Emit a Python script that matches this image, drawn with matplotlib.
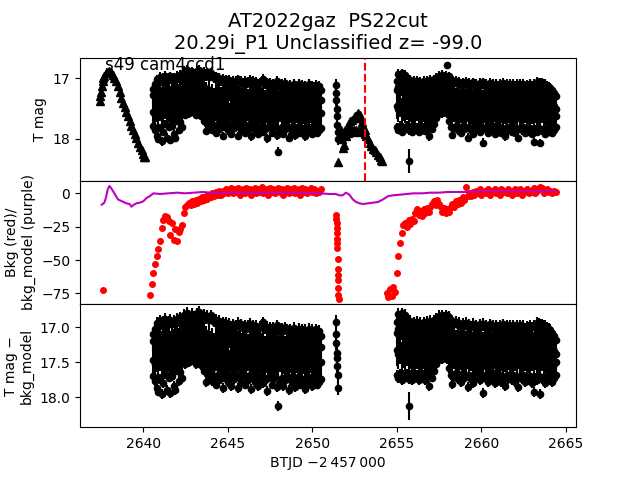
import numpy as np
import matplotlib
matplotlib.use('Agg')
from matplotlib import pyplot as plt

nan = np.nan

# ---- segment A: early rise/decline, plotted as triangles (top panel only)
t_a = [2637.45, 2637.47, 2637.50, 2637.55, 2637.60, 2637.65, 2637.70, 2637.80, 2637.90, 2638.00,
       2638.10, 2638.20, 2638.30, 2638.40, 2638.50, 2638.60, 2638.70, 2638.80, 2638.90, 2639.00,
       2639.10, 2639.20, 2639.30, 2639.40, 2639.50, 2639.60, 2639.70, 2639.80, 2639.90, 2640.00,
       2640.05, 2640.10]
mag_a = [17.38, 17.30, 17.22, 17.12, 17.05, 17.00, 16.96, 16.92, 16.89, 16.88,
         16.90, 16.94, 16.99, 17.05, 17.13, 17.23, 17.33, 17.41, 17.48, 17.55,
         17.63, 17.70, 17.78, 17.85, 17.92, 17.99, 18.06, 18.13, 18.19, 18.25,
         18.30, 18.30]

# ---- segment B: dense light curve, 4 exposures per 0.1 d bin
t_b = [2640.4, 2640.5, 2640.6, 2640.7, 2640.8, 2640.9, 2641.0, 2641.1, 2641.2, 2641.3,
       2641.4, 2641.5, 2641.6, 2641.7, 2641.8, 2641.9, 2642.0, 2642.1, 2642.2, 2642.3,
       2642.4, 2642.5, 2642.6, 2642.7, 2642.8, 2642.9, 2643.0, 2643.1, 2643.2, 2643.3,
       2643.4, 2643.5, 2643.6, 2643.7, 2643.8, 2643.9, 2644.0, 2644.1, 2644.2, 2644.3,
       2644.4, 2644.5, 2644.6, 2644.7, 2644.8, 2644.9, 2645.0, 2645.1, 2645.2, 2645.3,
       2645.4, 2645.5, 2645.6, 2645.7, 2645.8, 2645.9, 2646.0, 2646.1, 2646.2, 2646.3,
       2646.4, 2646.5, 2646.6, 2646.7, 2646.8, 2646.9, 2647.0, 2647.1, 2647.2, 2647.3,
       2647.4, 2647.5, 2647.6, 2647.7, 2647.8, 2647.9, 2648.0, 2648.1, 2648.2, 2648.3,
       2648.4, 2648.5, 2648.6, 2648.7, 2648.8, 2648.9, 2649.0, 2649.1, 2649.2, 2649.3,
       2649.4, 2649.5, 2649.6, 2649.7, 2649.8, 2649.9, 2650.0, 2650.1, 2650.2, 2650.3,
       2650.4, 2650.5]
hi_b = [nan, nan, 17.18, 17.10, 17.02, 17.06, 16.98, 17.04, 17.00, 16.96,
        17.05, 17.00, 16.97, 17.03, 16.99, 17.02, 16.96, 17.00, 16.94, 16.98,
        16.90, 16.93, 16.87, 16.92, 16.95, 16.89, 16.93, 16.97, 16.88, 16.86,
        16.92, 16.95, 16.90, 16.96, 16.92, 16.98, 16.91, 16.95, 17.00, 16.97,
        17.03, 16.99, 17.05, 17.01, 17.06, 17.02, 17.07, 17.03, 17.08, 17.04,
        17.09, 17.05, 17.02, 17.07, 17.04, 17.09, 17.05, 17.10, 17.06, 17.03,
        17.08, 17.05, 17.10, 17.06, 17.11, 17.07, 17.04, 17.01, 17.10, 17.07,
        17.12, 17.08, 17.13, 17.09, 17.14, 17.05, 17.11, 17.15, 17.10, 17.13,
        17.08, 17.12, 17.16, 17.11, 17.14, 17.09, 17.13, 17.16, 17.10, 17.14,
        17.11, 17.15, 17.12, 17.16, 17.10, 17.14, 17.12, 17.15, 17.11, 17.14,
        17.13, 17.20]
q_b = [nan, nan,
       17.28, 17.22, 17.18, 17.25, 17.20, 17.30, 17.24, 17.18, 17.27, 17.21,
       17.29, 17.19, 17.26, 17.22, 17.17, 17.25, 17.20, 17.28,
       17.08, 17.12, 17.06, 17.10, 17.05, 17.11, 17.07, 17.13, 17.06, 17.04,
       17.09, 17.12, 17.15,
       17.22, 17.28, 17.20, 17.30, 17.25, 17.32, 17.21, 17.27, 17.24, 17.30,
       17.23, 17.29, 17.26, 17.31, 17.22, 17.28, 17.25, 17.33, 17.24, 17.29,
       17.27, 17.32, 17.25, 17.30, 17.26, 17.34, 17.28, 17.31, 17.25, 17.33,
       17.29, 17.35, 17.27, 17.32, 17.30, 17.36, 17.28, 17.33, 17.31, 17.35,
       17.29, 17.34, 17.32, 17.37, 17.30, 17.35, 17.31, 17.36, 17.29, 17.34,
       17.32, 17.37, 17.30, 17.35, 17.33, 17.36, 17.31, 17.34, 17.32, 17.37,
       17.30, 17.35, 17.33, 17.36, 17.31, 17.34, 17.32, 17.35, 17.36]
mid_b = [nan, nan,
         17.55, 17.60, 17.50, 17.62, 17.48, 17.58, 17.52, 17.45, 17.60, 17.50,
         17.56, 17.48, 17.62, 17.52, 17.45, 17.58, 17.50, 17.55,
         17.35, 17.30, 17.38, 17.32, 17.28, 17.36, 17.30, 17.38, 17.33, 17.35,
         17.40, 17.36, 17.45,
         17.50, 17.56, 17.48, 17.60, 17.52, 17.58, 17.49, 17.55, 17.61, 17.51,
         17.57, 17.50, 17.59, 17.53, 17.62, 17.49, 17.56, 17.52, 17.60, 17.50,
         17.58, 17.54, 17.61, 17.51, 17.57, 17.49, 17.59, 17.53, 17.62, 17.55,
         17.50, 17.58, 17.52, 17.60, 17.54, 17.62, 17.51, 17.57, 17.55, 17.60,
         17.52, 17.59, 17.54, 17.62, 17.50, 17.57, 17.53, 17.61, 17.55, 17.58,
         17.52, 17.60, 17.56, 17.62, 17.51, 17.58, 17.54, 17.61, 17.53, 17.59,
         17.55, 17.62, 17.52, 17.58, 17.56, 17.60, 17.54, 17.59, 17.57]
lo_b = [nan, nan, 17.78, 17.85, 17.95, 18.00, 17.82, 18.04, 17.88, 17.75,
        17.98, 17.80, 18.02, 17.78, 17.92, 17.98, 17.70, 17.85, 17.72, 17.80,
        17.55, 17.60, 17.50, 17.58, 17.48, 17.55, 17.52, 17.60, 17.50, 17.58,
        17.62, 17.55, 17.70, 17.87, 17.75, 17.80, 17.72, 17.85, 17.78, 17.90,
        17.76, 17.84, 17.72, 17.95, 17.80, 17.75, 17.86, 17.78, 17.92, 17.74,
        17.82, 17.76, 17.95, 17.80, 17.86, 17.74, 17.90, 17.78, 17.84, 17.76,
        17.96, 17.80, 17.86, 17.74, 17.92, 17.82, 17.78, 17.88, 17.84, 17.99,
        17.80, 17.76, 17.90, 17.82, 17.78, 17.94, 18.21, 17.86, 17.80, 17.92,
        17.84, 17.78, 17.98, 17.82, 17.88, 17.80, 17.94, 17.84, 17.78, 17.90,
        17.82, 17.86, 17.96, 17.80, 17.88, 17.82, 17.92, 17.84, 17.80, 17.90,
        17.86, 17.82]
bkg_b = [-76, -68, -60, -53, -47, -42, -36, -26, -20, -17,
         -18, -21, -31, -22, -35, -27, -36, -29, -27, -24,
         -15, -10, -9, -7, -9, -6, -8, -5, -7, -4,
         -6, -3, -5, -2, -4, -1, -3, 0, -2, 1,
         -1, 2, -1, 2, 0, 3, 0, 2, 4, 0,
         3, 1, 4, -1, 2, 3, 0, 4, 1, 3,
         -1, 2, 4, 0, 3, 1, 5, 0, 2, 3,
         -1, 4, 1, 3, 0, 2, 4, 1, 3, -1,
         2, 4, 0, 3, 1, 4, 0, 2, 3, -1,
         4, 1, 3, 0, 2, 4, 1, 3, 0, 2,
         1, 3]
bkgmodel_mag_b = 0.08  # T mag - bkg_model offset

# ---- segment C: short chunk near 2651.45
t_c = [2651.38, 2651.40, 2651.42, 2651.44, 2651.46, 2651.48, 2651.50, 2651.52]
mag_c = [17.11, 17.25, 17.36, 17.50, 17.62, 17.77, 17.88, 18.00]
diff_c = [16.92, 17.09, 17.23, 17.37, 17.44, 17.56, 17.68, 17.87]
t_bkg_c = [2651.42, 2651.43, 2651.44, 2651.45, 2651.46, 2651.47, 2651.48, 2651.49,
           2651.50, 2651.51, 2651.52, 2651.53, 2651.54, 2651.55, 2651.56]
bkg_c = [-16, -19, -22, -26, -30, -34, -37, -41, -49, -57, -61, -65, -71, -76, -79]

# ---- segment D: triangles after the chunk
t_d = [2651.55, 2651.70, 2651.75, 2651.80, 2651.85, 2651.90, 2651.95, 2652.00, 2652.05, 2652.10,
       2652.15, 2652.20, 2652.25, 2652.30, 2652.35, 2652.40, 2652.45, 2652.50, 2652.55, 2652.60,
       2652.65, 2652.70, 2652.75, 2652.80, 2652.85, 2652.90, 2652.95, 2653.00, 2653.05, 2653.10,
       2653.15, 2653.20, 2653.30, 2653.40, 2653.50, 2653.60, 2653.70, 2653.80, 2653.90, 2654.00,
       2654.10, 2654.15]
mag_d = [18.38, 17.85, 18.00, 18.15, 17.90, 18.10, 17.85, 17.95, 17.80, 17.90,
         17.75, 17.88, 17.70, 17.85, 17.68, 17.88, 17.66, 17.86, 17.63, 17.85,
         17.60, 17.57, 17.86, 17.60, 17.65, 17.88, 17.72, 17.80, 17.88, 17.86,
         17.92, 17.95, 18.00, 18.06, 18.12, 18.16, 18.19, 18.22, 18.26, 18.30,
         18.34, 18.36]

# ---- segment E: second dense chunk
t_e = [2654.4, 2654.5, 2654.6, 2654.7, 2654.8, 2654.9, 2655.0, 2655.1, 2655.2, 2655.3,
       2655.4, 2655.5, 2655.6, 2655.7, 2655.8, 2655.9, 2656.0, 2656.1, 2656.2, 2656.3,
       2656.4, 2656.5, 2656.6, 2656.7, 2656.8, 2656.9, 2657.0, 2657.1, 2657.2, 2657.3,
       2657.4, 2657.5, 2657.6, 2657.7, 2657.8, 2657.9, 2658.0, 2658.1, 2658.2, 2658.3,
       2658.4, 2658.5, 2658.6, 2658.7, 2658.8, 2658.9, 2659.0, 2659.1, 2659.2, 2659.3,
       2659.4, 2659.5, 2659.6, 2659.7, 2659.8, 2659.9, 2660.0, 2660.1, 2660.2, 2660.3,
       2660.4, 2660.5, 2660.6, 2660.7, 2660.8, 2660.9, 2661.0, 2661.1, 2661.2, 2661.3,
       2661.4, 2661.5, 2661.6, 2661.7, 2661.8, 2661.9, 2662.0, 2662.1, 2662.2, 2662.3,
       2662.4, 2662.5, 2662.6, 2662.7, 2662.8, 2662.9, 2663.0, 2663.1, 2663.2, 2663.3,
       2663.4, 2663.5, 2663.6, 2663.7, 2663.8, 2663.9, 2664.0, 2664.1, 2664.2, 2664.3,
       2664.4]
hi_e = [nan, nan, nan, nan, nan, nan,
        17.05, 16.93, 16.97, 16.92, 16.98, 16.94, 17.00, 17.06, 17.03, 17.09,
        17.05, 17.10, 17.04, 17.08, 17.06, 17.11, 17.05, 17.09, 17.04, 17.08,
        17.03, 17.07, 17.02, 16.99, 17.01, 16.96, 16.99, 16.95, 16.98, 16.96,
        17.00, 16.97, 17.02, 17.06, 17.08, 17.04, 17.09, 17.06, 17.11, 17.07,
        17.10, 17.06, 17.12, 17.08, 17.11, 17.07, 17.12, 17.09, 17.13, 17.08,
        17.11, 17.07, 17.12, 17.09, 17.13, 17.08, 17.12, 17.10, 17.14, 17.09,
        17.13, 17.10, 17.14, 17.08, 17.12, 17.09, 17.13, 17.10, 17.14, 17.09,
        17.12, 17.10, 17.14, 17.09, 17.13, 17.10, 17.14, 17.11, 17.13, 17.10,
        17.12, 17.09, 17.11, 17.06, 17.07, 17.08, 17.08, 17.09, 17.10, 17.12,
        17.14, 17.16, 17.20, 17.25, 17.30]
q_e = [nan, nan, nan, nan, nan, nan,
       17.20, 17.15, 17.18, 17.14, 17.20, 17.16, 17.22, 17.26, 17.24, 17.29,
       17.25, 17.30, 17.24, 17.28, 17.26, 17.31, 17.25, 17.29, 17.24, 17.28,
       17.23, 17.27, 17.22,
       17.18, 17.16, 17.14, 17.17, 17.13, 17.16, 17.14, 17.18, 17.20,
       17.26, 17.30, 17.27, 17.32, 17.28, 17.33, 17.29, 17.31, 17.27, 17.34,
       17.30, 17.33, 17.28, 17.35, 17.31, 17.34, 17.29, 17.32, 17.30, 17.35,
       17.31, 17.34, 17.28, 17.33, 17.30, 17.35, 17.31, 17.34, 17.29, 17.33,
       17.30, 17.35, 17.31, 17.34, 17.29, 17.33, 17.30, 17.35, 17.31, 17.34,
       17.29, 17.33, 17.30, 17.35, 17.31, 17.34, 17.29, 17.33, 17.30, 17.35,
       17.27, 17.30, 17.28, 17.29, 17.30, 17.31, 17.33, 17.34, 17.36, 17.38,
       17.42, 17.46, 17.50]
mid_e = [nan, nan, nan, nan, nan, nan,
         17.45, 17.50, 17.42, 17.55, 17.48, 17.52, 17.46, 17.58, 17.50, 17.60,
         17.52, 17.57, 17.49, 17.61, 17.54, 17.58, 17.50, 17.62, 17.53, 17.59,
         17.51, 17.56, 17.48,
         17.40, 17.36, 17.33, 17.38, 17.34, 17.37, 17.35, 17.40, 17.45,
         17.52, 17.58, 17.50, 17.61, 17.54, 17.59, 17.51, 17.62, 17.55, 17.58,
         17.50, 17.60, 17.53, 17.62, 17.56, 17.59, 17.52, 17.61, 17.54, 17.58,
         17.51, 17.60, 17.55, 17.62, 17.53, 17.59, 17.50, 17.61, 17.56, 17.58,
         17.52, 17.60, 17.54, 17.62, 17.51, 17.59, 17.55, 17.61, 17.53, 17.58,
         17.50, 17.60, 17.54, 17.62, 17.52, 17.59, 17.55, 17.61, 17.53, 17.58,
         17.51, 17.60, 17.54, 17.62, 17.52, 17.59, 17.55, 17.61, 17.58, 17.60,
         17.62, 17.64, 17.62]
lo_e = [nan, nan, nan, nan, nan, nan,
        17.80, 17.85, 17.78, 17.88, 17.80, 17.84, 17.78, 17.86, 17.80, 17.88,
        17.78, 17.84, 17.80, 17.88, 17.78, 17.85, 17.80, 17.87, 17.82, 17.96,
        17.80, 17.84, 17.75, 17.65, 17.60, 17.55, 17.52, 17.58, 17.54, 17.56,
        17.58, 17.70, 17.80, 17.93, 17.82, 17.78, 17.86, 17.80, 17.90, 17.78,
        17.84, 17.82, 17.98, 17.80, 17.86, 17.92, 17.80, 17.84, 17.78, 17.88,
        17.82, 18.06, 17.84, 17.80, 17.90, 17.82, 17.86, 17.78, 17.92, 17.82,
        17.86, 17.80, 17.90, 17.84, 17.96, 17.80, 17.86, 17.82, 17.88, 17.80,
        17.90, 17.84, 17.98, 17.82, 17.86, 17.80, 17.90, 17.84, 17.88, 17.82,
        17.92, 18.05, 17.84, 17.88, 17.82, 18.07, 17.86, 17.84, 17.92, 17.82,
        17.88, 17.84, 17.90, 17.85, 17.80]
bkg_e = [-75, -78, -72, -77, -70, -74, -60, -47, -37, -30,
         -24, -22, -25, -20, -23, -19, -21, -15, -12, -16,
         -13, -17, -12, -15, -11, -14, -10, -8, -6, -9,
         -5, -8, -10, -14, -11, -15, -12, -14, -10, -8,
         -10, -6, -8, -5, -7, -3, -5, 5, -2, 0,
         -2, 1, -1, 2, 0, 3, -1, 1, 2, 0,
         3, -1, 2, 1, 3, 0, 2, -1, 3, 1,
         2, 0, 3, 1, -1, 2, 3, 0, 1, 3,
         -1, 2, 1, 3, 0, 2, 1, 4, 0, 2,
         3, 5, 4, 0, 2, 3, 1, 2, 0, 2,
         1]
bkgmodel_mag_e = 0.12

# photometric errors per level
err_hi, err_q, err_mid, err_lo = 0.08, 0.16, 0.22, 0.07

# outliers in segment E (top mag, bottom mag, error)
t_out = [2655.75, 2657.95]
mag_out = [18.36, 16.79]
diff_out = [18.13, 16.83]
err_out = [0.2, 0.03]

# lone background point at start
t_bkg_a = [2637.64]
bkg_a = [-72.5]

# background model (purple)
t_model = [2637.55, 2637.7, 2637.8, 2637.9, 2638.0, 2638.1, 2638.25, 2638.5, 2638.75, 2639.0,
           2639.2, 2639.3, 2639.45, 2639.6, 2639.8, 2640.0, 2640.2, 2640.4, 2640.6, 2641.0,
           2641.5, 2642.0, 2642.5, 2643.0, 2643.5, 2644.0, 2645.0, 2646.0, 2647.0, 2648.0,
           2649.0, 2650.0, 2650.5, 2651.0, 2651.4, 2651.6, 2651.8, 2652.0, 2652.2, 2652.4,
           2652.6, 2652.8, 2653.0, 2653.3, 2653.6, 2653.9, 2654.2, 2654.5, 2654.8, 2655.2,
           2655.6, 2656.0, 2656.5, 2657.0, 2657.5, 2658.0, 2658.5, 2659.0, 2660.0, 2661.0,
           2662.0, 2663.0, 2664.0, 2664.4]
bkg_model = [-8.5, -7, -3, 3, 5.5, 4, 1, -4.5, -6, -7.5,
             -8, -10, -8.5, -7.5, -7, -6, -3.5, -2, 0, -0.5,
             0, 0.5, 0, 0.5, 1, 0.5, 0.5, 0.5, 0.5, 0.5,
             0.5, 0, 0, -0.5, -0.5, -1.5, -1.5, 0.5, -1, -4.5,
             -6.5, -7.5, -8, -7.5, -7, -6.5, -4.5, -2, -1.5, -1,
             -0.5, 0, 0, 0.5, 0.5, 1, 1, 1, 1.5, 1.5,
             1.5, 1.5, 1.5, 1.5]

t_mark = 2653.12


def plot_band(ax, t, vals, err):
    ax.errorbar(t, vals, yerr=err, fmt='o', color='k', ms=4.5, elinewidth=1.5, capsize=0)


fig, (ax1, ax2, ax3) = plt.subplots(3, 1, sharex=True, figsize=(6.4, 4.8), dpi=100)
plt.subplots_adjust(hspace=0)

levels_b = [(hi_b, err_hi), (q_b, err_q), (mid_b, err_mid), (lo_b, err_lo)]
levels_e = [(hi_e, err_hi), (q_e, err_q), (mid_e, err_mid), (lo_e, err_lo)]

# top: T mag
ax1.plot(t_a, mag_a, 'k^', ms=6)
ax1.plot(t_d, mag_d, 'k^', ms=6)
for vals, err in levels_b:
    plot_band(ax1, t_b, vals, err)
for vals, err in levels_e:
    plot_band(ax1, t_e, vals, err)
plot_band(ax1, t_c, mag_c, 0.1)
ax1.errorbar(t_out, mag_out, yerr=err_out, fmt='o', color='k', ms=4.5, elinewidth=1.5, capsize=0)
ax1.axvline(t_mark, color='r', ls='--', lw=1.5)
ax1.set_ylim(18.69, 16.66)
ax1.set_yticks([17, 18])
ax1.set_ylabel('T mag')
ax1.text(0.05, 0.9, 's49 cam4ccd1', transform=ax1.transAxes, fontsize=12, va='baseline')
ax1.set_title('AT2022gaz  PS22cut\n20.29i_P1 Unclassified z= -99.0', fontsize=14)

# middle: background
ax2.plot(t_b, bkg_b, 'o', color='r', ms=4)
ax2.plot(t_e, bkg_e, 'o', color='r', ms=4)
ax2.plot(t_bkg_c, bkg_c, 'o', color='r', ms=4)
ax2.plot(t_bkg_a, bkg_a, 'o', color='r', ms=4)
ax2.plot(t_model, bkg_model, '-', color='m', lw=1.5)
ax2.set_ylim(-83, 9.4)
ax2.set_yticks([0, -25, -50, -75])
ax2.set_ylabel('Bkg (red)/\nbkg_model (purple)')

# bottom: T mag - bkg_model
for vals, err in levels_b:
    plot_band(ax3, t_b, np.array(vals) - bkgmodel_mag_b, err)
for vals, err in levels_e:
    plot_band(ax3, t_e, np.array(vals) - bkgmodel_mag_e, err)
plot_band(ax3, t_c, diff_c, 0.1)
ax3.errorbar(t_out, diff_out, yerr=err_out, fmt='o', color='k', ms=4.5, elinewidth=1.5, capsize=0)
ax3.set_ylim(18.43, 16.667)
ax3.set_yticks([17.0, 17.5, 18.0])
ax3.set_ylabel('T mag \u2212\nbkg_model')

ax3.set_xlim(2636.26, 2665.61)
ax3.set_xticks([2640, 2645, 2650, 2655, 2660, 2665])
ax3.set_xlabel('BTJD \u22122\u2009457\u2009000')

fig.savefig('out.png', dpi=100)
